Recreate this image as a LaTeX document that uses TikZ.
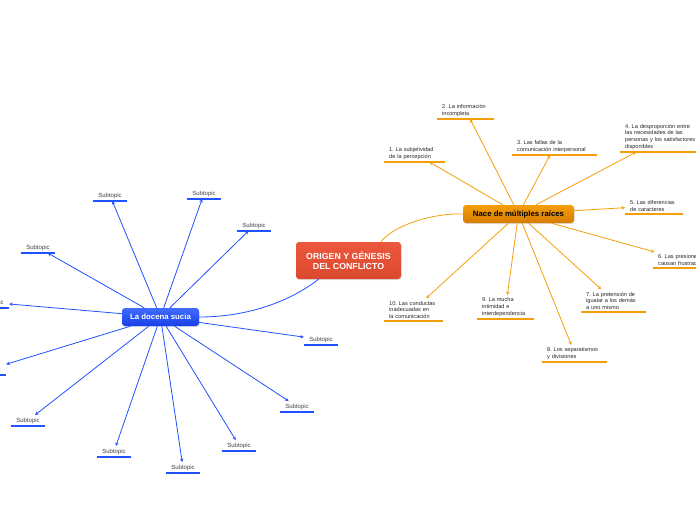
\documentclass[tikz,border=0pt]{standalone}
\usepackage{fontspec}
\setmainfont{Liberation Sans}
\usetikzlibrary{arrows.meta, shadows}
\frenchspacing

\definecolor{raizorange}{RGB}{245,158,10}
\definecolor{raizdark}{RGB}{214,124,0}
\definecolor{sucblue}{RGB}{32,82,255}
\definecolor{sucdark}{RGB}{22,64,230}
\definecolor{centrored}{RGB}{236,88,62}
\definecolor{centrodark}{RGB}{218,72,46}

\begin{document}
\begin{tikzpicture}[
  x=1pt, y=-1pt,
  centrobox/.style={rounded corners=3pt, top color=centrored, bottom color=centrodark,
    draw=none, text=white, align=center, minimum width=105pt, minimum height=37pt,
    inner sep=2pt, font=\fontsize{8.8}{10}\selectfont\bfseries,
    drop shadow={shadow xshift=0.6pt, shadow yshift=-1pt, opacity=0.25}},
  raizbox/.style={rounded corners=3pt, top color=raizorange, bottom color=raizdark,
    draw=none, text=black, minimum width=111pt, minimum height=18pt,
    inner sep=2pt, font=\fontsize{7.8}{9}\selectfont\bfseries,
    drop shadow={shadow xshift=0.6pt, shadow yshift=-1pt, opacity=0.25}},
  sucbox/.style={rounded corners=3pt, top color=sucblue!85!white, bottom color=sucdark,
    draw=none, text=white, minimum width=77pt, minimum height=18pt,
    inner sep=2pt, font=\fontsize{7.8}{9}\selectfont\bfseries,
    drop shadow={shadow xshift=0.6pt, shadow yshift=-1pt, opacity=0.25}},
  raiztopic/.style={anchor=south west, align=left, inner xsep=5pt, inner ysep=2.5pt,
    text=black!85, font=\fontsize{5.6}{6.6}\selectfont},
  subtopic/.style={anchor=south, align=center, text width=24pt, inner xsep=5pt,
    inner ysep=2.5pt, text=black!75, font=\fontsize{6}{7}\selectfont},
  rline/.style={draw=raizorange, line width=2.4pt},
  bline/.style={draw=sucblue, line width=2.4pt},
  rlink/.style={-{Stealth[length=3.5pt,width=3.5pt]}, draw=raizorange, line width=0.8pt},
  blink/.style={-{Stealth[length=3.5pt,width=3.5pt]}, draw=sucblue, line width=0.8pt}
]
\useasboundingbox (0,0) rectangle (696,520);

% --- central idea ---
\node[centrobox] (centro) at (348.5,260.5) {ORIGEN Y GÉNESIS\\DEL CONFLICTO};

% --- main topics ---
\node[raizbox] (nace) at (518.5,214) {Nace de múltiples raíces};
\node[sucbox] (docena) at (160.5,317) {La docena sucia};

\draw[draw=raizorange, line width=0.8pt] (centro.30) .. controls (395,224) and (435,213) .. (nace.west);
\draw[draw=sucblue, line width=0.8pt] (docena.east) .. controls (250,317) and (292,300) .. (centro.212);

% --- the ten roots ---
\node[raiztopic, text width=51pt] (r1) at (384,162) {1. La subjetividad\\de la percepción};
\node[raiztopic, text width=47pt] (r2) at (437,119) {2. La información\\incompleta};
\node[raiztopic, text width=75pt] (r3) at (512,155) {3. Las fallas de la\\comunicación interpersonal};
\node[raiztopic, text width=80pt] (r4) at (620,152) {4. La desproporción entre\\las necesidades de las\\personas y los satisfactores\\disponibles};
\node[raiztopic, text width=48pt] (r5) at (625,214) {5. Las diferencias\\de caracteres};
\node[raiztopic, text width=50pt] (r6) at (653,268) {6. Las presiones\\causan frustración};
\node[raiztopic, text width=55pt] (r7) at (581,312) {7. La pretensión de\\igualar a los demás\\a uno mismo};
\node[raiztopic, text width=55pt] (r8) at (542,362) {8. Los separatismos\\y divisiones};
\node[raiztopic, text width=47pt] (r9) at (477,319) {9. La mucha\\intimidad e\\interdependencia};
\node[raiztopic, text width=49pt] (r10) at (384,321) {10. Las conductas\\inadecuadas en\\la comunicación};

\foreach \i in {1,...,10} {
  \draw[rline] (r\i.south west) -- (r\i.south east);
  \draw[rlink] (nace) -- (r\i);
}

% --- twelve subtopics ---
\foreach \i/\x/\y in {1/110/201, 2/204/199, 3/254/231, 4/38/253, 5/-8/308, 6/-11/375,
    7/321/345, 8/28/426, 9/114/457, 10/183/473, 11/239/451, 12/297/412}
  \node[subtopic] (s\i) at (\x,\y) {Subtopic};

\foreach \i in {1,...,12} {
  \draw[bline] (s\i.south west) -- (s\i.south east);
  \draw[blink] (docena) -- (s\i);
}

\end{tikzpicture}
\end{document}
